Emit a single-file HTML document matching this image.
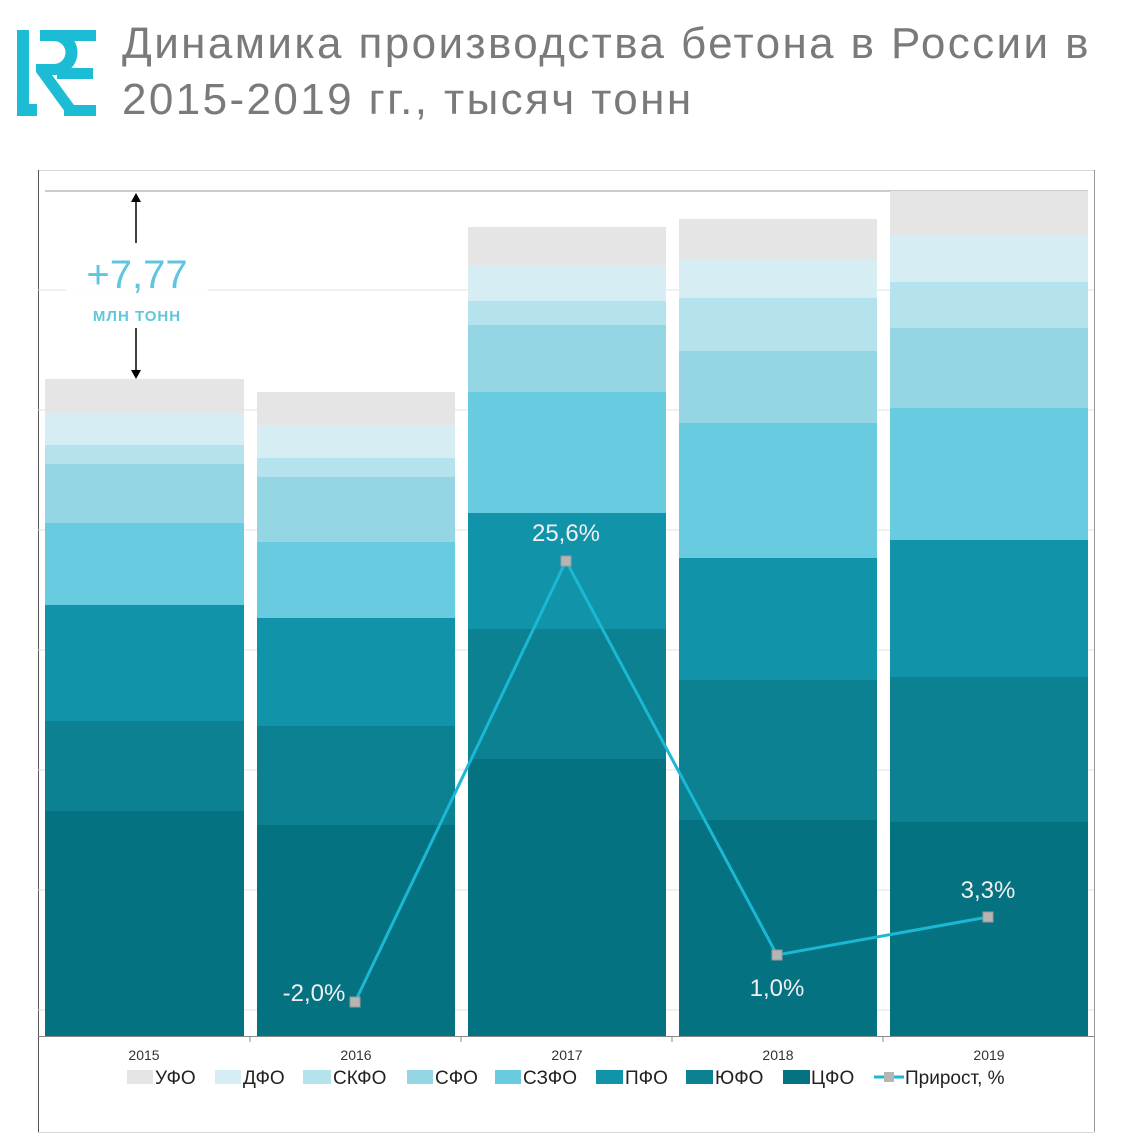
<!DOCTYPE html>
<html><head><meta charset="utf-8"><style>
body{margin:0;background:#fff;width:1134px;height:1134px;overflow:hidden;font-family:"Liberation Sans","DejaVu Sans",sans-serif}
</style></head><body>
<svg width="1134" height="1134" xmlns="http://www.w3.org/2000/svg" font-family="Liberation Sans, DejaVu Sans, sans-serif">
<!-- logo -->
<g fill="#1cbcd4">
<rect x="17" y="30" width="12" height="86"/>
<rect x="17" y="104" width="20" height="12"/>
<rect x="40" y="30" width="56" height="11"/>
<rect x="57" y="68" width="36" height="11"/>
<rect x="64" y="105" width="32" height="11"/>
<path d="M40 30 h15 a22 22 0 0 1 0 45 h-3 l30 41 h-14 l-32 -44 v-8 h18 a11 11 0 0 0 0 -23 h-14 z"/>
</g>
<text x="122" y="58" font-size="44" fill="#7a7a7a" letter-spacing="2.4">Динамика производства бетона в России в</text>
<text x="122" y="114" font-size="44" fill="#7a7a7a" letter-spacing="2.4">2015-2019 гг., тысяч тонн</text>
<!-- frame -->
<line x1="38" y1="170.5" x2="1094" y2="170.5" stroke="#d8d8d8"/>
<line x1="1094.5" y1="170" x2="1094.5" y2="1132" stroke="#999"/>
<line x1="38.5" y1="170" x2="38.5" y2="1132" stroke="#555"/>
<line x1="38" y1="1132.5" x2="1094" y2="1132.5" stroke="#d8d8d8"/>
<g stroke="#e0e0e0">
<line x1="38" y1="290" x2="1094" y2="290"/><line x1="38" y1="410" x2="1094" y2="410"/><line x1="38" y1="530" x2="1094" y2="530"/><line x1="38" y1="650" x2="1094" y2="650"/><line x1="38" y1="770" x2="1094" y2="770"/><line x1="38" y1="890" x2="1094" y2="890"/><line x1="38" y1="1010" x2="1094" y2="1010"/>
</g>
<line x1="45" y1="191" x2="1088" y2="191" stroke="#999"/>
<!-- bars -->
<g id="b">
<rect x="45" y="379" width="199" height="34" fill="#e5e5e5"/><rect x="45" y="413" width="199" height="32" fill="#d6eef3"/><rect x="45" y="445" width="199" height="19" fill="#b4e3ee"/><rect x="45" y="464" width="199" height="59" fill="#95d6e4"/><rect x="45" y="523" width="199" height="82" fill="#68cbe0"/><rect x="45" y="605" width="199" height="116" fill="#1193aa"/><rect x="45" y="721" width="199" height="90" fill="#0b8192"/><rect x="45" y="811" width="199" height="225" fill="#057281"/>
<rect x="257" y="392" width="198" height="33" fill="#e5e5e5"/><rect x="257" y="425" width="198" height="33" fill="#d6eef3"/><rect x="257" y="458" width="198" height="19" fill="#b4e3ee"/><rect x="257" y="477" width="198" height="65" fill="#95d6e4"/><rect x="257" y="542" width="198" height="76" fill="#68cbe0"/><rect x="257" y="618" width="198" height="108" fill="#1193aa"/><rect x="257" y="726" width="198" height="99" fill="#0b8192"/><rect x="257" y="825" width="198" height="211" fill="#057281"/>
<rect x="468" y="227" width="198" height="38" fill="#e5e5e5"/><rect x="468" y="265" width="198" height="36" fill="#d6eef3"/><rect x="468" y="301" width="198" height="24" fill="#b4e3ee"/><rect x="468" y="325" width="198" height="67" fill="#95d6e4"/><rect x="468" y="392" width="198" height="121" fill="#68cbe0"/><rect x="468" y="513" width="198" height="116" fill="#1193aa"/><rect x="468" y="629" width="198" height="130" fill="#0b8192"/><rect x="468" y="759" width="198" height="277" fill="#057281"/>
<rect x="679" y="219" width="198" height="41" fill="#e5e5e5"/><rect x="679" y="260" width="198" height="38" fill="#d6eef3"/><rect x="679" y="298" width="198" height="53" fill="#b4e3ee"/><rect x="679" y="351" width="198" height="72" fill="#95d6e4"/><rect x="679" y="423" width="198" height="135" fill="#68cbe0"/><rect x="679" y="558" width="198" height="122" fill="#1193aa"/><rect x="679" y="680" width="198" height="140" fill="#0b8192"/><rect x="679" y="820" width="198" height="216" fill="#057281"/>
<rect x="890" y="191" width="198" height="45" fill="#e5e5e5"/><rect x="890" y="236" width="198" height="46" fill="#d6eef3"/><rect x="890" y="282" width="198" height="46" fill="#b4e3ee"/><rect x="890" y="328" width="198" height="80" fill="#95d6e4"/><rect x="890" y="408" width="198" height="132" fill="#68cbe0"/><rect x="890" y="540" width="198" height="137" fill="#1193aa"/><rect x="890" y="677" width="198" height="145" fill="#0b8192"/><rect x="890" y="822" width="198" height="214" fill="#057281"/>
</g>
<line x1="38" y1="1036.5" x2="1094" y2="1036.5" stroke="#888"/>
<g stroke="#888"><line x1="250" y1="1036" x2="250" y2="1042"/><line x1="461" y1="1036" x2="461" y2="1042"/><line x1="672" y1="1036" x2="672" y2="1042"/><line x1="883" y1="1036" x2="883" y2="1042"/></g>
<!-- annotation -->
<rect x="66" y="246" width="142" height="84" fill="#fff" opacity="0.9"/>
<line x1="136" y1="200" x2="136" y2="243" stroke="#000" stroke-width="1.5"/>
<path d="M131 202 L136 193 L141 202 Z" fill="#000"/>
<line x1="136" y1="328" x2="136" y2="372" stroke="#000" stroke-width="1.5"/>
<path d="M131 370 L136 379 L141 370 Z" fill="#000"/>
<text x="137" y="288" font-size="40" fill="#5fc6dd" text-anchor="middle">+7,77</text>
<text x="137" y="321" font-size="15" fill="#5fc6dd" text-anchor="middle" font-weight="bold" letter-spacing="1">МЛН ТОНН</text>
<!-- line -->
<polyline points="355,1002 566,561 777,955 988,917" fill="none" stroke="#1ab8d4" stroke-width="3"/>
<g fill="#b5b5b5" stroke="#999"><rect x="350" y="997" width="10" height="10"/><rect x="561" y="556" width="10" height="10"/><rect x="772" y="950" width="10" height="10"/><rect x="983" y="912" width="10" height="10"/></g>
<g fill="#f0f0f0" font-size="24" text-anchor="middle">
<text x="314" y="1001">-2,0%</text><text x="566" y="541">25,6%</text><text x="777" y="996">1,0%</text><text x="988" y="898">3,3%</text>
</g>
<!-- axis labels -->
<g font-size="14" fill="#333" text-anchor="middle">
<text x="144" y="1060">2015</text><text x="356" y="1060">2016</text><text x="567" y="1060">2017</text><text x="778" y="1060">2018</text><text x="989" y="1060">2019</text>
</g>
<g font-size="19" fill="#222">
<rect x="127" y="1070" width="26" height="14" fill="#e5e5e5"/><text x="155" y="1084">УФО</text>
<rect x="215" y="1070" width="26" height="14" fill="#d6eef3"/><text x="243" y="1084">ДФО</text>
<rect x="303" y="1070" width="28" height="14" fill="#b4e3ee"/><text x="333" y="1084">СКФО</text>
<rect x="407" y="1070" width="26" height="14" fill="#95d6e4"/><text x="435" y="1084">СФО</text>
<rect x="495" y="1070" width="26" height="14" fill="#68cbe0"/><text x="523" y="1084">СЗФО</text>
<rect x="596" y="1070" width="27" height="14" fill="#1193aa"/><text x="625" y="1084">ПФО</text>
<rect x="686" y="1070" width="27" height="14" fill="#0b8192"/><text x="715" y="1084">ЮФО</text>
<rect x="783" y="1070" width="27" height="14" fill="#057281"/><text x="811" y="1084">ЦФО</text>
<line x1="874" y1="1077" x2="904" y2="1077" stroke="#1ab8d4" stroke-width="3"/><rect x="884" y="1072" width="10" height="10" fill="#b5b5b5"/><text x="905" y="1084">Прирост, %</text>
</g>
</svg>
</body></html>
